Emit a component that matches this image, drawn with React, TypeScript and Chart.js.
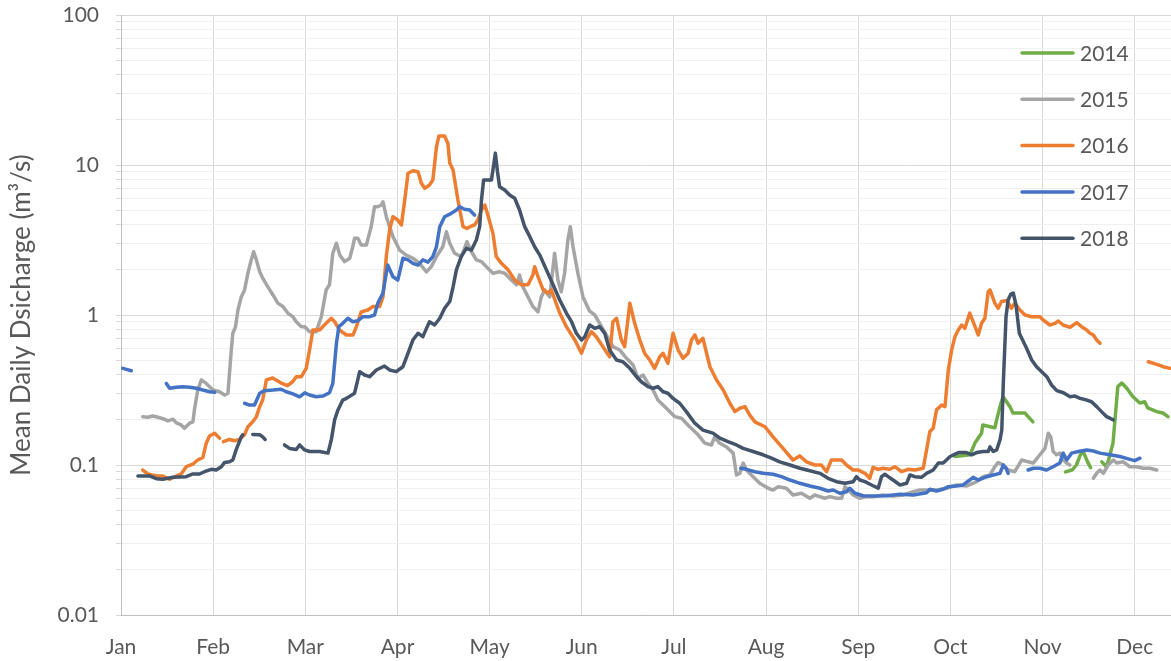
import React, { useEffect, useRef } from 'react';
import { Chart, registerables } from 'chart.js';

Chart.register(...registerables);

// ---- axis definitions ----
const MONTHS = ['Jan', 'Feb', 'Mar', 'Apr', 'May', 'Jun', 'Jul', 'Aug', 'Sep', 'Oct', 'Nov', 'Dec'];
const MONTH_LENGTH = 30.5; // day units between month gridlines
const MONTH_TICKS = MONTHS.map((_, i) => i * MONTH_LENGTH);
const X_MAX = 347.5;
const Y_MIN = 0.01;
const Y_MAX = 100;
const Y_TICKS: number[] = [];
for (let e = -2; e <= 1; e++) {
  for (let m = 1; m <= 9; m++) Y_TICKS.push(parseFloat((m * Math.pow(10, e)).toPrecision(3)));
}
Y_TICKS.push(100);
const Y_TITLE = 'Mean Daily Dsicharge (m³/s)';

const SERIES_NAMES = ['2014', '2015', '2016', '2017', '2018'];
const SERIES_COLORS = ['#70ad47', '#a5a5a5', '#ed7d31', '#4472c4', '#44546a'];

// ---- data: [day of year, mean daily discharge m3/s] (null = gap) ----
const q2014: [number, number | null][] = [
  [276.0, 0.114], [281.0, 0.117], [282.6, 0.14], [284.8, 0.163], [285.2, 0.185], [287.6, 0.18], [289.2, 0.177],
  [289.8, 0.2], [290.9, 0.245], [291.9, 0.285], [294.2, 0.245], [295.2, 0.222], [299.2, 0.222], [300.2, 0.21],
  [301.8, 0.194], [307, null],
  [312.6, 0.09], [314.9, 0.093], [316.2, 0.1], [317.5, 0.117], [318.5, 0.122], [319.9, 0.105], [320.9, 0.096],
  [323, null],
  [324.6, 0.105], [326.2, 0.097], [328.3, 0.14], [329.9, 0.333], [331.2, 0.352], [332.8, 0.326], [334.9, 0.285],
  [337.2, 0.259], [338.8, 0.264], [339.8, 0.24], [342.8, 0.227], [344.8, 0.222], [346.5, 0.21],
];

const q2015: [number, number | null][] = [
  [7.2, 0.21], [8.9, 0.208], [10.5, 0.212], [12.2, 0.208], [14.4, 0.202], [15.5, 0.197], [17.2, 0.202], [18.3, 0.191],
  [19.9, 0.185], [21.0, 0.176], [22.7, 0.19], [23.8, 0.194], [24.3, 0.233], [25.4, 0.316], [26.6, 0.369], [28.2, 0.35],
  [30.4, 0.316], [32.6, 0.308], [34.3, 0.293], [35.4, 0.301], [36.5, 0.584], [37.0, 0.755], [37.9, 0.836], [38.7, 1.08],
  [39.8, 1.32], [40.9, 1.47], [42.0, 1.9], [43.1, 2.33], [43.9, 2.64], [44.8, 2.33], [45.9, 1.94], [46.9, 1.76],
  [48.6, 1.54], [50.3, 1.36], [51.9, 1.2], [53.6, 1.14], [55.2, 1.03], [56.9, 0.974], [58.0, 0.902], [59.7, 0.836],
  [60.8, 0.836], [62.4, 0.774], [64.6, 0.774], [66.3, 0.974], [67.9, 1.47], [69.0, 1.59], [70.1, 2.58], [71.3, 3.01],
  [72.4, 2.51], [74.0, 2.27], [75.7, 2.39], [76.7, 2.85], [77.3, 3.25], [78.4, 3.25], [79.5, 2.93], [81.2, 2.93],
  [82.8, 3.88], [83.9, 5.27], [85.0, 5.27], [86.2, 5.41], [86.7, 5.69], [87.8, 4.52], [90.0, 3.33], [92.2, 2.71],
  [94.4, 2.51], [96.6, 2.39], [98.8, 2.21], [101.1, 1.94], [102.7, 2.1], [104.4, 2.45], [106.5, 2.85], [107.7, 3.59],
  [108.8, 3.01], [110.4, 2.58], [112.6, 2.45], [113.7, 2.78], [114.5, 3.08], [116.0, 2.64], [117.6, 2.33], [119.3, 2.27],
  [120.9, 2.1], [123.1, 1.9], [125.3, 1.94], [127.0, 1.9], [129.2, 1.71], [130.9, 1.59], [131.9, 1.85], [133.0, 1.54],
  [134.7, 1.32], [136.3, 1.14], [138.0, 1.05], [139.1, 1.32], [140.2, 1.47], [141.9, 1.32], [143.5, 2.58], [144.6, 1.71],
  [145.7, 1.43], [146.8, 1.9], [147.9, 3.16], [148.7, 3.88], [149.6, 2.85], [151.2, 1.9], [152.9, 1.32], [155.1, 1.06],
  [156.8, 1.0], [158.4, 0.88], [160.6, 0.736], [162.8, 0.615], [165.1, 0.584], [167.3, 0.514], [169.5, 0.464],
  [171.1, 0.378], [172.8, 0.398], [174.4, 0.35], [176.1, 0.316], [177.7, 0.271], [180.5, 0.239], [183.3, 0.21],
  [185.5, 0.205], [188.2, 0.18], [191.0, 0.159], [193.2, 0.14], [195.4, 0.136], [196.5, 0.154], [198.1, 0.14],
  [200.4, 0.132], [202.6, 0.12], [203.7, 0.0858], [204.8, 0.088], [205.9, 0.103], [207.0, 0.0926], [209.2, 0.0836],
  [211.4, 0.0755], [214.2, 0.07], [215.8, 0.0681], [217.5, 0.0717], [220.2, 0.07], [222.4, 0.0631], [225.2, 0.0648],
  [228.0, 0.06], [229.6, 0.0631], [231.3, 0.0615], [232.9, 0.06], [234.6, 0.0615], [236.8, 0.06], [238.5, 0.06],
  [239.6, 0.0717], [240.7, 0.0681], [242.3, 0.0631], [244.5, 0.06], [246.7, 0.0615], [248.9, 0.0615], [252.2, 0.0631],
  [255.5, 0.0621], [258.9, 0.0631], [262.2, 0.0664], [264.4, 0.0681], [267.1, 0.0681], [269.9, 0.0681], [273.2, 0.07],
  [276.5, 0.0736], [279.8, 0.0724], [283.2, 0.0774], [285.3, 0.0836], [287.6, 0.0858], [289.2, 0.0974], [290.3, 0.104],
  [292.0, 0.1], [293.6, 0.0926], [295.8, 0.0902], [298.1, 0.108], [300.2, 0.105], [301.9, 0.103], [304.1, 0.117],
  [305.8, 0.129], [306.9, 0.163], [307.7, 0.154], [308.5, 0.123], [309.6, 0.117], [310.7, 0.12], [311.8, 0.108],
  [313.0, 0.103], [314.0, 0.1], [318, null],
  [321.8, 0.0815], [322.9, 0.088], [324.0, 0.0926], [325.1, 0.088], [326.7, 0.1], [328.4, 0.108], [329.5, 0.103],
  [331.7, 0.105], [333.9, 0.0974], [336.1, 0.0974], [338.3, 0.0951], [340.5, 0.0951], [342.8, 0.0926],
];

const q2016: [number, number | null][] = [
  [7.2, 0.0926], [8.9, 0.0871], [11.7, 0.0845], [13.8, 0.0845], [16.1, 0.0803], [18.3, 0.0845], [19.9, 0.0871],
  [21.6, 0.0974], [23.8, 0.1015], [25.4, 0.108], [27.1, 0.1125], [28.2, 0.1395], [29.3, 0.156], [31.0, 0.163],
  [32.6, 0.151], [33.3, null],
  [33.9, 0.143], [35.9, 0.148], [37.6, 0.145], [39.2, 0.148], [40.9, 0.159], [42.0, 0.18], [43.6, 0.194], [44.8, 0.21],
  [45.9, 0.245], [46.9, 0.271], [48.1, 0.369], [50.2, 0.38], [53.0, 0.352], [55.1, 0.338], [56.8, 0.359], [58.0, 0.388],
  [59.7, 0.388], [61.3, 0.441], [62.4, 0.584], [63.5, 0.794], [65.7, 0.794], [67.9, 0.88], [69.6, 0.951], [70.7, 0.902],
  [72.3, 0.794], [74.6, 0.736], [76.8, 0.736], [77.9, 0.836], [79.5, 1.05], [81.7, 1.08], [83.4, 1.14], [85.6, 1.14],
  [86.7, 1.32], [87.8, 2.45], [88.9, 3.69], [90.0, 4.52], [91.6, 4.3], [92.8, 3.98], [93.9, 5.84], [95.0, 8.8],
  [96.6, 9.16], [98.3, 9.02], [99.4, 7.55], [100.5, 6.99], [102.1, 7.36], [103.2, 7.94], [104.4, 13.2], [105.2, 15.6],
  [107.1, 15.6], [108.2, 13.9], [108.8, 10.3], [109.9, 9.26], [111.5, 5.84], [113.2, 3.88], [114.5, 3.78], [116.0, 3.92],
  [117.0, 3.98], [118.1, 4.3], [119.3, 5.01], [120.4, 5.41], [121.4, 4.64], [123.1, 3.5], [124.2, 2.45], [125.9, 2.21],
  [128.1, 2.0], [130.3, 1.71], [132.5, 1.59], [134.7, 1.59], [136.3, 1.85], [136.9, 2.1], [138.0, 1.8], [139.7, 1.47],
  [141.3, 1.4], [142.4, 1.47], [145.2, 1.03], [147.4, 0.836], [150.2, 0.681], [152.4, 0.556], [154.0, 0.681],
  [155.7, 0.774], [157.3, 0.717], [159.5, 0.615], [161.7, 0.527], [162.8, 0.902], [164.0, 0.951], [165.6, 0.681],
  [166.7, 0.615], [168.4, 1.2], [170.0, 0.88], [171.7, 0.681], [173.3, 0.556], [175.0, 0.501], [176.6, 0.441],
  [178.3, 0.527], [179.4, 0.556], [181.0, 0.476], [182.7, 0.755], [184.4, 0.584], [186.0, 0.514], [187.7, 0.556],
  [188.8, 0.681], [189.9, 0.736], [191.0, 0.648], [192.6, 0.699], [194.9, 0.452], [197.1, 0.369], [199.3, 0.316],
  [201.5, 0.258], [203.2, 0.227], [204.8, 0.239], [206.5, 0.245], [208.1, 0.215], [209.8, 0.194], [213.1, 0.18],
  [215.8, 0.154], [219.1, 0.129], [222.4, 0.108], [224.6, 0.115], [226.9, 0.105], [229.6, 0.1], [231.8, 0.1],
  [233.5, 0.0902], [235.1, 0.108], [236.8, 0.108], [238.5, 0.108], [240.1, 0.1], [242.3, 0.0926], [244.0, 0.0926],
  [246.2, 0.088], [247.8, 0.0815], [248.9, 0.0965], [250.6, 0.0936], [252.2, 0.0951], [254.4, 0.0936], [256.1, 0.0974],
  [258.3, 0.0902], [260.5, 0.0936], [262.7, 0.0926], [265.5, 0.0951], [266.6, 0.126], [267.7, 0.167], [268.8, 0.176],
  [269.9, 0.233], [271.6, 0.251], [272.7, 0.245], [273.8, 0.43], [274.9, 0.584], [276.0, 0.717], [277.1, 0.794],
  [278.2, 0.858], [279.3, 0.815], [280.9, 1.03], [282.0, 0.902], [283.7, 0.736], [284.8, 0.88], [285.9, 0.951],
  [287.0, 1.43], [287.6, 1.47], [289.2, 1.2], [290.3, 1.11], [291.4, 1.23], [293.1, 1.25], [294.7, 1.11], [295.8, 1.2],
  [297.5, 1.08], [299.2, 1.0], [301.4, 0.974], [304.1, 0.974], [305.2, 0.926], [307.4, 0.858], [309.1, 0.88],
  [310.2, 0.912], [311.8, 0.858], [314.1, 0.828], [316.3, 0.889], [317.9, 0.836], [319.6, 0.794], [320.7, 0.755],
  [321.8, 0.736], [322.9, 0.681], [324.0, 0.648], [330, null],
  [340.0, 0.488], [342.8, 0.469], [344.9, 0.452], [347.2, 0.441],
];

const q2017: [number, number | null][] = [
  [0.6, 0.441], [1.8, 0.434], [3.4, 0.425], [9, null],
  [15.0, 0.35], [16.1, 0.325], [18.3, 0.33], [20.5, 0.333], [22.7, 0.33], [24.9, 0.325], [27.1, 0.316], [29.3, 0.308],
  [31.0, 0.305], [36, null],
  [40.9, 0.258], [42.5, 0.251], [44.2, 0.251], [45.9, 0.301], [47.5, 0.313], [50.3, 0.316], [53.0, 0.32], [54.7, 0.308],
  [56.9, 0.298], [59.1, 0.285], [60.8, 0.303], [62.4, 0.293], [64.6, 0.285], [66.8, 0.288], [69.0, 0.303], [70.1, 0.35],
  [71.3, 0.648], [72.1, 0.836], [73.4, 0.88], [75.1, 0.951], [76.7, 0.902], [78.4, 0.916], [80.1, 0.974], [82.3, 0.974],
  [83.9, 1.0], [85.0, 1.2], [86.7, 1.4], [87.8, 1.9], [88.3, 2.15], [90.0, 1.8], [91.6, 1.71], [93.3, 2.39], [95.0, 2.33],
  [96.6, 2.21], [98.3, 2.15], [99.9, 2.33], [101.6, 2.25], [103.2, 2.45], [104.4, 2.85], [105.5, 3.88], [107.1, 4.52],
  [109.3, 4.76], [111.0, 5.01], [112.1, 5.27], [113.7, 5.07], [115.4, 5.01], [117.0, 4.64], [160, null],
  [205.1, 0.0951], [207.0, 0.0936], [209.8, 0.0902], [212.5, 0.088], [215.8, 0.0867], [218.6, 0.0836], [221.4, 0.0794],
  [224.7, 0.0755], [228.0, 0.0724], [231.3, 0.07], [234.0, 0.0671], [235.7, 0.0681], [237.9, 0.0648], [240.1, 0.0664],
  [241.2, 0.07], [242.9, 0.0648], [245.6, 0.0624], [248.9, 0.0621], [253.4, 0.0624], [257.8, 0.0638], [262.2, 0.0631],
  [266.6, 0.0654], [267.7, 0.0689], [269.9, 0.0671], [272.1, 0.0689], [273.8, 0.0717], [276.5, 0.0724], [278.7, 0.0736],
  [280.9, 0.0794], [282.0, 0.0828], [283.7, 0.0794], [285.9, 0.0828], [288.7, 0.0858], [290.9, 0.088], [292.0, 0.1],
  [292.9, 0.0951], [293.6, 0.088], [297, null],
  [300.2, 0.0926], [301.9, 0.0951], [304.1, 0.0951], [306.3, 0.0926], [308.5, 0.0974], [310.7, 0.103], [311.8, 0.12],
  [313.0, 0.108], [314.6, 0.12], [316.8, 0.123], [319.6, 0.126], [321.8, 0.124], [324.0, 0.12], [327.3, 0.117],
  [330.6, 0.114], [333.9, 0.109], [335.5, 0.107], [337.2, 0.111],
];

const q2018: [number, number | null][] = [
  [5.6, 0.0845], [9.4, 0.0845], [11.7, 0.081], [13.8, 0.0803], [17.2, 0.0828], [21.6, 0.0836], [23.8, 0.0871],
  [26.0, 0.0871], [27.6, 0.0902], [29.9, 0.0936], [31.5, 0.0926], [33.2, 0.0974], [34.3, 0.104], [35.9, 0.105],
  [37.0, 0.108], [38.1, 0.126], [39.8, 0.154], [40.3, 0.159], [42, null],
  [43.6, 0.16], [45.9, 0.159], [46.9, 0.154], [47.7, 0.148], [50, null],
  [54.1, 0.136], [55.8, 0.129], [58.0, 0.127], [59.1, 0.136], [60.8, 0.126], [62.4, 0.123], [65.7, 0.123], [68.5, 0.12],
  [69.6, 0.147], [70.7, 0.2], [71.8, 0.233], [73.4, 0.271], [74.6, 0.278], [77.3, 0.301], [79.0, 0.419], [80.6, 0.398],
  [82.3, 0.388], [84.5, 0.43], [87.2, 0.457], [88.9, 0.43], [91.1, 0.419], [93.3, 0.452], [95.0, 0.556], [96.6, 0.681],
  [98.3, 0.755], [99.9, 0.717], [101.1, 0.815], [102.1, 0.902], [103.8, 0.858], [105.5, 0.951], [107.1, 1.11],
  [108.8, 1.23], [109.9, 1.54], [111.0, 2.0], [112.6, 2.45], [114.3, 2.78], [116.0, 2.71], [117.6, 3.16], [118.7, 3.88],
  [119.3, 5.84], [120.0, 7.94], [121.4, 7.94], [122.6, 7.94], [123.1, 9.26], [123.9, 12.0], [124.6, 9.02], [125.3, 7.17],
  [127.0, 6.81], [128.6, 6.31], [130.3, 6.0], [131.9, 5.01], [133.6, 3.88], [135.3, 3.33], [136.9, 2.85], [138.6, 2.51],
  [140.8, 2.0], [143.0, 1.59], [145.2, 1.26], [147.4, 1.03], [149.1, 0.902], [150.7, 0.755], [152.4, 0.681],
  [153.5, 0.717], [155.1, 0.858], [156.8, 0.815], [158.4, 0.836], [160.1, 0.755], [161.7, 0.584], [164.0, 0.501],
  [166.1, 0.488], [168.4, 0.441], [170.6, 0.388], [172.2, 0.359], [174.4, 0.333], [176.1, 0.325], [177.7, 0.333],
  [179.4, 0.308], [181.0, 0.301], [182.7, 0.278], [184.9, 0.258], [187.1, 0.227], [189.9, 0.19], [192.6, 0.171],
  [195.9, 0.163], [198.2, 0.151], [200.9, 0.143], [203.7, 0.136], [205.9, 0.129], [209.2, 0.123], [212.5, 0.117],
  [215.3, 0.111], [218.0, 0.105], [221.4, 0.1], [224.7, 0.0951], [228.0, 0.0916], [231.3, 0.088], [234.0, 0.0815],
  [236.8, 0.0774], [239.6, 0.0755], [242.3, 0.0774], [243.4, 0.0836], [244.5, 0.0794], [246.2, 0.0774], [248.4, 0.0736],
  [250.6, 0.07], [251.7, 0.0836], [252.8, 0.0867], [253.9, 0.0836], [255.5, 0.0794], [257.8, 0.0736], [260.0, 0.0755],
  [261.1, 0.0858], [262.7, 0.0836], [264.9, 0.0828], [266.6, 0.088], [268.8, 0.0926], [270.5, 0.103], [272.1, 0.103],
  [274.4, 0.114], [277.1, 0.121], [279.8, 0.121], [281.5, 0.117], [283.2, 0.121], [285.3, 0.123], [287.0, 0.123],
  [287.6, 0.132], [288.7, 0.123], [289.8, 0.126], [290.9, 0.147], [291.5, 0.171], [292.0, 0.35], [292.9, 0.974],
  [293.6, 1.26], [294.5, 1.38], [295.3, 1.4], [296.2, 1.17], [297.3, 0.755], [298.1, 0.699], [299.7, 0.6], [301.4, 0.501],
  [303.0, 0.452], [304.7, 0.419], [306.4, 0.388], [308.0, 0.341], [309.7, 0.313], [311.9, 0.303], [314.1, 0.285],
  [315.7, 0.288], [317.4, 0.278], [319.6, 0.271], [321.2, 0.264], [322.9, 0.245], [324.5, 0.227], [326.2, 0.21],
  [328.4, 0.2],
];

const SERIES_DATA = [q2014, q2015, q2016, q2017, q2018];

const TEXT_COLOR = '#595959';
const FONT_FAMILY = 'Lato, "Open Sans", sans-serif';

const isDecade = (v: number) => {
  const l = Math.log10(v);
  return Math.abs(l - Math.round(l)) < 1e-6;
};

const insideLegend = {
  id: 'insideLegend',
  afterDraw(chart: any) {
    const { ctx, chartArea } = chart;
    const lineX0 = chartArea.right - 149;
    const lineX1 = chartArea.right - 98;
    const textX = chartArea.right - 91;
    ctx.save();
    SERIES_NAMES.forEach((name, i) => {
      const y = chartArea.top + 38 + i * 46.3;
      ctx.strokeStyle = SERIES_COLORS[i];
      ctx.lineWidth = 3.5;
      ctx.lineCap = 'round';
      ctx.beginPath();
      ctx.moveTo(lineX0, y);
      ctx.lineTo(lineX1, y);
      ctx.stroke();
      ctx.fillStyle = TEXT_COLOR;
      ctx.font = `21px ${FONT_FAMILY}`;
      ctx.textBaseline = 'middle';
      ctx.textAlign = 'left';
      ctx.fillText(name, textX, y + 1);
    });
    ctx.restore();
  },
};

export default function App() {
  const canvasRef = useRef<HTMLCanvasElement | null>(null);

  useEffect(() => {
    if (!canvasRef.current) return;
    const datasets = SERIES_NAMES.map((name, i) => ({
      label: name,
      data: SERIES_DATA[i].map(([x, y]) => ({ x, y })),
      borderColor: SERIES_COLORS[i],
      backgroundColor: SERIES_COLORS[i],
      borderWidth: 3.5,
      pointRadius: 0,
      tension: 0,
      spanGaps: false,
      borderCapStyle: 'round' as const,
      borderJoinStyle: 'round' as const,
      order: SERIES_NAMES.length - 1 - i,
    }));

    const chart = new Chart(canvasRef.current, {
      type: 'line',
      data: { datasets },
      options: {
        responsive: false,
        animation: false,
        devicePixelRatio: 1,
        layout: { padding: { top: 15, left: 0, right: 0, bottom: 0 } },
        plugins: {
          legend: { display: false },
          tooltip: { enabled: false },
        },
        scales: {
          x: {
            type: 'linear',
            min: 0,
            max: X_MAX,
            afterBuildTicks: (scale: any) => {
              scale.ticks = MONTH_TICKS.map((v) => ({ value: v }));
            },
            afterFit: (scale: any) => {
              scale.height = 46;
              scale.paddingLeft = 0;
              scale.paddingRight = 0;
            },
            ticks: {
              autoSkip: false,
              maxRotation: 0,
              color: TEXT_COLOR,
              font: { family: FONT_FAMILY, size: 21 },
              padding: 20,
              callback: (_v: any, i: number) => MONTHS[i],
            },
            grid: { color: '#d9d9d9', drawTicks: false, lineWidth: 1 },
            border: { color: '#bfbfbf' },
          },
          y: {
            type: 'logarithmic',
            min: Y_MIN,
            max: Y_MAX,
            afterBuildTicks: (scale: any) => {
              scale.ticks = Y_TICKS.map((v) => ({ value: v }));
            },
            afterFit: (scale: any) => {
              scale.width = 121;
              scale.paddingTop = 0;
              scale.paddingBottom = 0;
            },
            ticks: {
              autoSkip: false,
              color: TEXT_COLOR,
              font: { family: FONT_FAMILY, size: 21 },
              padding: 17,
              callback: (v: any) => (isDecade(Number(v)) ? String(Number(v)) : ''),
            },
            grid: {
              color: (ctx: any) => (ctx.tick && isDecade(ctx.tick.value) ? '#d9d9d9' : '#f0f0f0'),
              tickColor: '#d9d9d9',
              tickLength: 5,
              lineWidth: 1,
            },
            border: { color: '#bfbfbf' },
            title: {
              display: true,
              text: Y_TITLE,
              color: TEXT_COLOR,
              font: { family: FONT_FAMILY, size: 26 },
              padding: { top: 6, bottom: 0 },
            },
          },
        },
      },
      plugins: [insideLegend],
    });
    return () => chart.destroy();
  }, []);

  return (
    <div style={{ position: 'absolute', left: 0, top: 0, width: 1171, height: 661, background: '#ffffff' }}>
      <canvas ref={canvasRef} width={1171} height={661} style={{ display: 'block' }} />
    </div>
  );
}
